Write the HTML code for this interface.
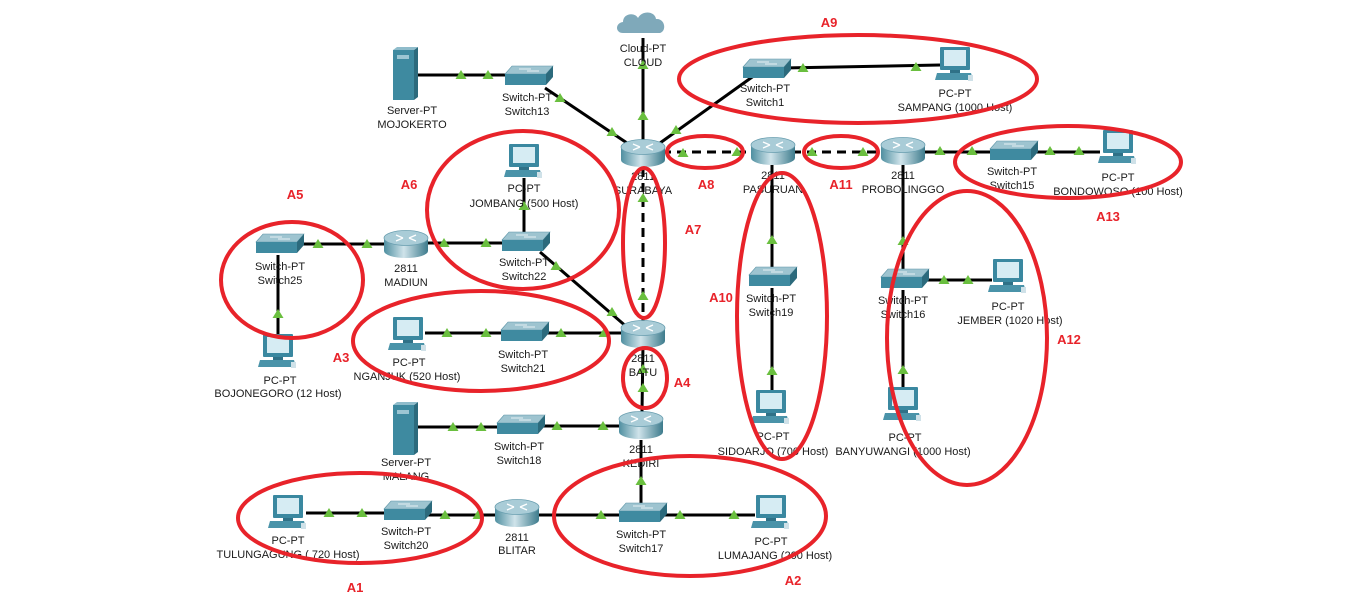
<!DOCTYPE html>
<html><head><meta charset="utf-8"><style>
html,body{margin:0;padding:0;background:#fff;}
svg{display:block;}
text{font-family:"Liberation Sans",Arial,sans-serif;font-size:11px;fill:#1a1a1a;text-anchor:middle;}
.r{font-size:13px;font-weight:bold;fill:#e8232a;}
</style></head><body>
<svg width="1350" height="614" viewBox="0 0 1350 614" xmlns="http://www.w3.org/2000/svg">
<defs>
<linearGradient id="rg" x1="0" x2="1" y1="0" y2="0">
<stop offset="0" stop-color="#4f8fa0"/><stop offset="0.45" stop-color="#cfe3ea"/><stop offset="1" stop-color="#3d7b8c"/></linearGradient>
<g id="router">
<rect x="-22" y="-6" width="44" height="13" fill="url(#rg)"/>
<ellipse cx="0" cy="7" rx="22" ry="7" fill="url(#rg)"/>
<ellipse cx="0" cy="-6" rx="22" ry="7.5" fill="#a9ccd7" stroke="#6a9fb0" stroke-width="0.8"/>
<path d="M-10 -9 L-3 -6 M3 -6 L10 -3 M-10 -3 L-3 -6 M3 -6 L10 -9" stroke="#fff" stroke-width="1.3"/>
</g>
<g id="switch">
<polygon points="-22,-3 -15,-11 26,-11 19,-3" fill="#9ec4d0" stroke="#5e96a8" stroke-width="0.6"/>
<rect x="-22" y="-3" width="41" height="11" fill="#3f8aa0"/>
<polygon points="19,-3 26,-11 26,0 19,8" fill="#2c6a7c"/>
<path d="M-8 -8 H4 M0 -6 H12" stroke="#fff" stroke-width="0.8"/>
</g>
<g id="pc">
<rect x="-15" y="-18" width="30" height="23" rx="1" fill="#3a88a0"/>
<rect x="-11" y="-15" width="22" height="16" fill="#d6ecf3"/>
<rect x="-5" y="5" width="10" height="3" fill="#2f7187"/>
<polygon points="-18,8 16,8 18,15 -20,15" fill="#4a93a9"/>
<rect x="13" y="10" width="5" height="6" fill="#cfe1e8"/>
</g>
<g id="server">
<rect x="-12" y="-25" width="21" height="50" fill="#3e8aa0"/>
<polygon points="9,-25 13,-28 13,22 9,25" fill="#2c6a7c"/>
<polygon points="-12,-25 -8,-28 13,-28 9,-25" fill="#8fbccb"/>
<rect x="-8" y="-20" width="12" height="4" fill="#9cc6d3"/>
</g>
<polygon id="t" points="0,-5 5.5,4 -5.5,4" fill="#6abf3f"/>
<g id="cloud"><path d="M-20 8 C-28 8 -28 -2 -20 -3 C-20 -12 -8 -13 -5 -7 C-1 -15 12 -14 13 -6 C22 -7 24 6 17 8 Z" fill="#7fa9ba"/></g>
</defs>

<!-- links -->
<g stroke="#000" stroke-width="3" fill="none">
<line x1="418" y1="75" x2="505" y2="75"/>
<line x1="545" y1="88" x2="630" y2="145"/>
<line x1="643" y1="38" x2="643" y2="140"/>
<line x1="755" y1="75" x2="660" y2="143"/>
<line x1="783" y1="68" x2="940" y2="65"/>
<line x1="922" y1="152" x2="992" y2="152"/>
<line x1="1030" y1="152" x2="1100" y2="152"/>
<line x1="524" y1="178" x2="524" y2="232"/>
<line x1="425" y1="243" x2="505" y2="243"/>
<line x1="296" y1="244" x2="388" y2="244"/>
<line x1="278" y1="255" x2="278" y2="340"/>
<line x1="540" y1="252" x2="628" y2="328"/>
<line x1="425" y1="333" x2="505" y2="333"/>
<line x1="541" y1="333" x2="625" y2="333"/>
<line x1="643" y1="345" x2="642" y2="412"/>
<line x1="418" y1="427" x2="501" y2="427"/>
<line x1="537" y1="426" x2="622" y2="426"/>
<line x1="641" y1="440" x2="641" y2="503"/>
<line x1="658" y1="515" x2="755" y2="515"/>
<line x1="536" y1="515" x2="624" y2="515"/>
<line x1="425" y1="515" x2="498" y2="515"/>
<line x1="306" y1="513" x2="388" y2="513"/>
<line x1="772" y1="165" x2="772" y2="268"/>
<line x1="772" y1="288" x2="772" y2="395"/>
<line x1="903" y1="165" x2="903" y2="270"/>
<line x1="921" y1="280" x2="992" y2="280"/>
<line x1="903" y1="290" x2="903" y2="393"/>
</g>
<g stroke="#000" stroke-width="3" fill="none" stroke-dasharray="9,6">
<line x1="662" y1="152" x2="755" y2="152"/>
<line x1="792" y1="152" x2="884" y2="152"/>
<line x1="643" y1="168" x2="643" y2="322"/>
</g>

<!-- triangles -->
<g>
<use href="#t" x="461" y="75"/><use href="#t" x="488" y="75"/>
<use href="#t" x="560" y="98"/><use href="#t" x="612" y="132"/>
<use href="#t" x="643" y="65"/><use href="#t" x="643" y="116"/>
<use href="#t" x="676" y="130"/>
<use href="#t" x="803" y="68"/><use href="#t" x="916" y="67"/>
<use href="#t" x="683" y="153"/><use href="#t" x="737" y="152"/>
<use href="#t" x="812" y="152"/><use href="#t" x="863" y="152"/>
<use href="#t" x="940" y="151"/><use href="#t" x="972" y="151"/>
<use href="#t" x="1050" y="151"/><use href="#t" x="1079" y="151"/>
<use href="#t" x="643" y="198"/><use href="#t" x="643" y="296"/>
<use href="#t" x="524" y="206"/>
<use href="#t" x="444" y="243"/><use href="#t" x="486" y="243"/>
<use href="#t" x="318" y="244"/><use href="#t" x="367" y="244"/>
<use href="#t" x="278" y="314"/>
<use href="#t" x="556" y="266"/><use href="#t" x="612" y="312"/>
<use href="#t" x="447" y="333"/><use href="#t" x="486" y="333"/>
<use href="#t" x="561" y="333"/><use href="#t" x="604" y="333"/>
<use href="#t" x="643" y="369"/><use href="#t" x="643" y="388"/>
<use href="#t" x="453" y="427"/><use href="#t" x="481" y="427"/>
<use href="#t" x="557" y="426"/><use href="#t" x="603" y="426"/>
<use href="#t" x="641" y="481"/>
<use href="#t" x="680" y="515"/><use href="#t" x="734" y="515"/>
<use href="#t" x="601" y="515"/>
<use href="#t" x="445" y="515"/><use href="#t" x="478" y="515"/>
<use href="#t" x="329" y="513"/><use href="#t" x="362" y="513"/>
<use href="#t" x="772" y="240"/><use href="#t" x="772" y="371"/>
<use href="#t" x="903" y="241"/><use href="#t" x="903" y="370"/>
<use href="#t" x="944" y="280"/><use href="#t" x="968" y="280"/>
</g>

<!-- devices -->
<use href="#cloud" x="643" y="25"/>
<use href="#server" x="405" y="75"/>
<use href="#server" x="405" y="430"/>
<use href="#switch" x="527" y="77"/>
<use href="#switch" x="765" y="70"/>
<use href="#switch" x="1012" y="152"/>
<use href="#switch" x="524" y="243"/>
<use href="#switch" x="278" y="245"/>
<use href="#switch" x="523" y="333"/>
<use href="#switch" x="519" y="426"/>
<use href="#switch" x="406" y="512"/>
<use href="#switch" x="641" y="514"/>
<use href="#switch" x="771" y="278"/>
<use href="#switch" x="903" y="280"/>
<use href="#router" x="643" y="153"/>
<use href="#router" x="773" y="151"/>
<use href="#router" x="903" y="151"/>
<use href="#router" x="406" y="244"/>
<use href="#router" x="643" y="334"/>
<use href="#router" x="641" y="425"/>
<use href="#router" x="517" y="513"/>
<use href="#pc" x="955" y="65"/>
<use href="#pc" x="1118" y="148"/>
<use href="#pc" x="524" y="162"/>
<use href="#pc" x="278" y="352"/>
<use href="#pc" x="408" y="335"/>
<use href="#pc" x="288" y="513"/>
<use href="#pc" x="771" y="513"/>
<use href="#pc" x="771" y="408"/>
<use href="#pc" x="1008" y="277"/>
<use href="#pc" x="903" y="405"/>

<!-- labels -->
<g>
<text x="643" y="52">Cloud-PT</text><text x="643" y="66">CLOUD</text>
<text x="412" y="114">Server-PT</text><text x="412" y="128">MOJOKERTO</text>
<text x="527" y="101">Switch-PT</text><text x="527" y="115">Switch13</text>
<text x="643" y="180">2811</text><text x="643" y="194">SURABAYA</text>
<text x="765" y="92">Switch-PT</text><text x="765" y="106">Switch1</text>
<text x="955" y="97">PC-PT</text><text x="955" y="111">SAMPANG (1000 Host)</text>
<text x="773" y="179">2811</text><text x="773" y="193">PASURUAN</text>
<text x="903" y="179">2811</text><text x="903" y="193">PROBOLINGGO</text>
<text x="1012" y="175">Switch-PT</text><text x="1012" y="189">Switch15</text>
<text x="1118" y="181">PC-PT</text><text x="1118" y="195">BONDOWOSO (100 Host)</text>
<text x="524" y="192">PC-PT</text><text x="524" y="207">JOMBANG (500 Host)</text>
<text x="524" y="266">Switch-PT</text><text x="524" y="280">Switch22</text>
<text x="406" y="272">2811</text><text x="406" y="286">MADIUN</text>
<text x="280" y="270">Switch-PT</text><text x="280" y="284">Switch25</text>
<text x="280" y="384">PC-PT</text><text x="278" y="397">BOJONEGORO (12 Host)</text>
<text x="409" y="366">PC-PT</text><text x="407" y="380">NGANJUK (520 Host)</text>
<text x="523" y="358">Switch-PT</text><text x="523" y="372">Switch21</text>
<text x="643" y="362">2811</text><text x="643" y="376">BATU</text>
<text x="641" y="453">2811</text><text x="641" y="467">KEDIRI</text>
<text x="406" y="466">Server-PT</text><text x="406" y="480">MALANG</text>
<text x="519" y="450">Switch-PT</text><text x="519" y="464">Switch18</text>
<text x="288" y="544">PC-PT</text><text x="288" y="558">TULUNGAGUNG ( 720 Host)</text>
<text x="406" y="535">Switch-PT</text><text x="406" y="549">Switch20</text>
<text x="517" y="541">2811</text><text x="517" y="554">BLITAR</text>
<text x="641" y="538">Switch-PT</text><text x="641" y="552">Switch17</text>
<text x="771" y="545">PC-PT</text><text x="775" y="559">LUMAJANG (200 Host)</text>
<text x="771" y="302">Switch-PT</text><text x="771" y="316">Switch19</text>
<text x="773" y="440">PC-PT</text><text x="773" y="455">SIDOARJO (700 Host)</text>
<text x="903" y="304">Switch-PT</text><text x="903" y="318">Switch16</text>
<text x="1008" y="310">PC-PT</text><text x="1010" y="324">JEMBER (1020 Host)</text>
<text x="905" y="441">PC-PT</text><text x="903" y="455">BANYUWANGI (1000 Host)</text>
</g>

<!-- red ellipses -->
<g fill="none" stroke="#e8232a" stroke-width="4">
<ellipse cx="858" cy="79" rx="179" ry="44"/>
<ellipse cx="705" cy="152" rx="38" ry="16"/>
<ellipse cx="841" cy="152" rx="37" ry="16"/>
<ellipse cx="1068" cy="162" rx="113" ry="36"/>
<ellipse cx="523" cy="210" rx="96" ry="79"/>
<ellipse cx="644" cy="243" rx="21" ry="75"/>
<ellipse cx="292" cy="280" rx="71" ry="58"/>
<ellipse cx="481" cy="341" rx="128" ry="50"/>
<ellipse cx="645" cy="378" rx="22" ry="30"/>
<ellipse cx="782" cy="316" rx="45" ry="143"/>
<ellipse cx="967" cy="338" rx="80" ry="147"/>
<ellipse cx="360" cy="518" rx="122" ry="45"/>
<ellipse cx="690" cy="516" rx="136" ry="60"/>
</g>
<g>
<text class="r" x="829" y="27">A9</text>
<text class="r" x="706" y="189">A8</text>
<text class="r" x="841" y="189">A11</text>
<text class="r" x="1108" y="221">A13</text>
<text class="r" x="409" y="189">A6</text>
<text class="r" x="693" y="234">A7</text>
<text class="r" x="295" y="199">A5</text>
<text class="r" x="341" y="362">A3</text>
<text class="r" x="682" y="387">A4</text>
<text class="r" x="721" y="302">A10</text>
<text class="r" x="1069" y="344">A12</text>
<text class="r" x="355" y="592">A1</text>
<text class="r" x="793" y="585">A2</text>
</g>
</svg>
</body></html>
